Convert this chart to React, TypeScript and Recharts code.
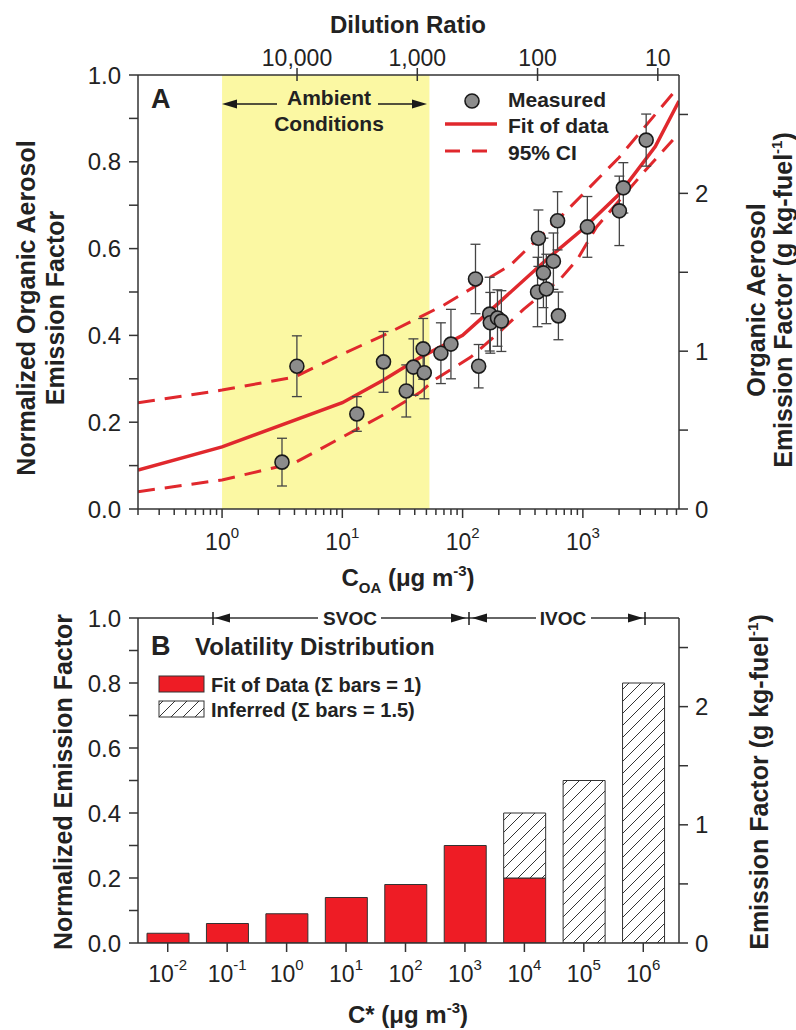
import React from "react";
import {
  ComposedChart,
  BarChart,
  Bar,
  Line,
  Scatter,
  ErrorBar,
  XAxis,
  YAxis,
  ReferenceArea,
  ReferenceLine,
} from "recharts";

const FONT = "'Liberation Sans', Arial, Helvetica, sans-serif";
const RED = "#e0282d";
const BAR_RED = "#ee1c25";
const AXIS = "#333";
const TEXT = "#222";

// ---- Panel A: measured emission factors vs C_OA
const measuredCoa = [3.15, 4.19, 13.2, 22, 34, 39, 47, 48, 66, 80, 136, 128, 168, 170, 195, 210, 420, 470, 497, 569, 626, 427, 616, 1090, 2010, 2170, 3360];
const measuredEf = [0.108, 0.329, 0.219, 0.339, 0.272, 0.327, 0.369, 0.314, 0.359, 0.38, 0.329, 0.53, 0.449, 0.429, 0.44, 0.433, 0.5, 0.544, 0.507, 0.571, 0.445, 0.624, 0.664, 0.65, 0.687, 0.74, 0.85];
const measuredErr = [0.055, 0.07, 0.04, 0.07, 0.06, 0.065, 0.07, 0.06, 0.07, 0.08, 0.05, 0.08, 0.085, 0.07, 0.065, 0.07, 0.08, 0.08, 0.08, 0.065, 0.055, 0.065, 0.067, 0.07, 0.08, 0.058, 0.06];

// fit and 95% confidence band
const fitCoa = [0.2, 1, 10, 22, 45, 100, 200, 500, 1000, 2000, 4000, 6300];
const fitEf = [0.09, 0.143, 0.245, 0.297, 0.35, 0.4, 0.475, 0.575, 0.645, 0.725, 0.835, 0.94];
const ciUpperCoa = [0.2, 1, 4, 10, 22, 70, 250, 690, 2000, 5700];
const ciUpperEf = [0.245, 0.274, 0.304, 0.357, 0.4, 0.47, 0.562, 0.68, 0.81, 0.96];
const ciLowerCoa = [0.2, 1, 4, 22, 45, 58, 117, 207, 321, 650, 900, 1300, 3300, 5600];
const ciLowerEf = [0.04, 0.067, 0.106, 0.217, 0.27, 0.297, 0.35, 0.41, 0.46, 0.53, 0.575, 0.65, 0.78, 0.85];

const ambientRange = [1, 53];
const coaDomain = [0.2, 6300];
const coaTicks = [0.2, 0.3, 0.4, 0.5, 0.6, 0.7, 0.8, 0.9, 1, 2, 3, 4, 5, 6, 7, 8, 9, 10, 20, 30, 40, 50, 60, 70, 80, 90, 100, 200, 300, 400, 500, 600, 700, 800, 900, 1000, 2000, 3000, 4000, 5000, 6000];
const dilutionTicks = [10000, 1000, 100, 10];
const DILUTION_X_COA = 42000; // dilution ratio * C_OA
const normTicks = [0, 0.1, 0.2, 0.3, 0.4, 0.5, 0.6, 0.7, 0.8, 0.9, 1.0];
const fuelTicks = [0, 0.5, 1, 1.5, 2, 2.5];
const FUEL_MAX = 2.75;

// ---- Panel B: volatility distribution
const cStarExp = [-2, -1, 0, 1, 2, 3, 4, 5, 6];
const fitBars = [0.03, 0.06, 0.09, 0.14, 0.18, 0.3, 0.2, 0, 0];
const inferredBars = [0, 0, 0, 0, 0, 0, 0.2, 0.5, 0.8];

const measuredRows = measuredCoa.map((x, i) => ({ x, y: measuredEf[i], err: measuredErr[i] }));
const fitRows = fitCoa.map((x, i) => ({ x, y: fitEf[i] }));
const upperRows = ciUpperCoa.map((x, i) => ({ x, y: ciUpperEf[i] }));
const lowerRows = ciLowerCoa.map((x, i) => ({ x, y: ciLowerEf[i] }));
const barRows = cStarExp.map((e, i) => ({ exp: e, fit: fitBars[i], inferred: inferredBars[i] }));

const isDecade = (v: number) => Math.abs(Math.log10(v) - Math.round(Math.log10(v))) < 1e-6;

function CoaTick({ x, y, payload }: any) {
  const major = isDecade(payload.value);
  return (
    <g>
      <line x1={x} x2={x} y1={y} y2={y + (major ? 9 : 6)} stroke={AXIS} strokeWidth={1.5} />
      {major && (
        <text x={x} y={y + 41} textAnchor="middle" fontSize={23} fill={TEXT} fontFamily={FONT}>
          10
          <tspan fontSize={15} dy={-12}>
            {Math.round(Math.log10(payload.value))}
          </tspan>
        </text>
      )}
    </g>
  );
}

function DilutionTick({ x, y, payload }: any) {
  const ratio = Math.round(DILUTION_X_COA / payload.value);
  return (
    <g>
      <line x1={x} x2={x} y1={y - 7} y2={y + 6} stroke={AXIS} strokeWidth={1.5} />
      <text x={x} y={y - 9} textAnchor="middle" fontSize={23} fill={TEXT} fontFamily={FONT}>
        {ratio.toLocaleString("en-US")}
      </text>
    </g>
  );
}

function NormTick({ x, y, payload }: any) {
  const v = payload.value;
  const labeled = Math.round(v * 10) % 2 === 0;
  return (
    <g>
      <line x1={x - 9} x2={x} y1={y} y2={y} stroke={AXIS} strokeWidth={1.5} />
      {labeled && (
        <text x={x - 17} y={y} dy="0.36em" textAnchor="end" fontSize={24} fill={TEXT} fontFamily={FONT}>
          {v.toFixed(1)}
        </text>
      )}
    </g>
  );
}

function FuelTick({ x, y, payload }: any) {
  const v = payload.value;
  return (
    <g>
      <line x1={x} x2={x + 9} y1={y} y2={y} stroke={AXIS} strokeWidth={1.5} />
      {Number.isInteger(v) && (
        <text x={x + 16} y={y} dy="0.36em" fontSize={24} fill={TEXT} fontFamily={FONT}>
          {v}
        </text>
      )}
    </g>
  );
}

function CStarTick({ x, y, payload }: any) {
  return (
    <g>
      <line x1={x} x2={x} y1={y} y2={y + 9} stroke={AXIS} strokeWidth={1.5} />
      <text x={x} y={y + 39} textAnchor="middle" fontSize={23} fill={TEXT} fontFamily={FONT}>
        10
        <tspan fontSize={15} dy={-12}>
          {payload.value}
        </tspan>
      </text>
    </g>
  );
}

const MeasuredDot = (p: any) => (
  <circle cx={p.cx} cy={p.cy} r={7} fill="#8c8c8c" stroke="#1a1a1a" strokeWidth={1.6} />
);

function Arrowhead({ tip, y, dir }: { tip: number; y: number; dir: 1 | -1 }) {
  const base = tip - dir * 15;
  return <polygon points={`${tip},${y} ${base},${y - 4.5} ${base},${y + 4.5}`} fill="#1a1a1a" />;
}

function PanelA() {
  return (
    <ComposedChart width={796} height={580} margin={{ top: 45, right: 57, bottom: 41, left: 78 }}>
      <XAxis
        xAxisId="bottom"
        dataKey="x"
        type="number"
        scale="log"
        domain={coaDomain}
        allowDataOverflow
        ticks={coaTicks}
        interval={0}
        height={30}
        tickSize={0}
        tickMargin={0}
        tickLine={false}
        stroke={AXIS}
        strokeWidth={1.5}
        tick={(p: any) => <CoaTick {...p} />}
      />
      <XAxis
        xAxisId="top"
        orientation="top"
        dataKey="x"
        type="number"
        scale="log"
        domain={coaDomain}
        allowDataOverflow
        ticks={dilutionTicks.map((d) => DILUTION_X_COA / d)}
        interval={0}
        height={30}
        tickSize={0}
        tickMargin={0}
        tickLine={false}
        stroke={AXIS}
        strokeWidth={1.5}
        tick={(p: any) => <DilutionTick {...p} />}
      />
      <YAxis
        yAxisId="left"
        dataKey="y"
        type="number"
        domain={[0, 1]}
        allowDataOverflow
        ticks={normTicks}
        interval={0}
        width={60}
        tickSize={0}
        tickMargin={0}
        tickLine={false}
        stroke={AXIS}
        strokeWidth={1.5}
        tick={(p: any) => <NormTick {...p} />}
      />
      <YAxis
        yAxisId="right"
        orientation="right"
        type="number"
        domain={[0, FUEL_MAX]}
        allowDataOverflow
        ticks={fuelTicks}
        interval={0}
        width={60}
        tickSize={0}
        tickMargin={0}
        tickLine={false}
        stroke={AXIS}
        strokeWidth={1.5}
        tick={(p: any) => <FuelTick {...p} />}
      />
      <ReferenceArea
        xAxisId="bottom"
        yAxisId="left"
        x1={ambientRange[0]}
        x2={ambientRange[1]}
        y1={0}
        y2={1}
        fill="#fbf8a3"
        fillOpacity={1}
        stroke="none"
      />
      <Line
        data={upperRows}
        xAxisId="bottom"
        yAxisId="left"
        dataKey="y"
        type="linear"
        stroke={RED}
        strokeWidth={3}
        strokeDasharray="17 10"
        dot={false}
        isAnimationActive={false}
      />
      <Line
        data={lowerRows}
        xAxisId="bottom"
        yAxisId="left"
        dataKey="y"
        type="linear"
        stroke={RED}
        strokeWidth={3}
        strokeDasharray="17 10"
        dot={false}
        isAnimationActive={false}
      />
      <Line
        data={fitRows}
        xAxisId="bottom"
        yAxisId="left"
        dataKey="y"
        type="linear"
        stroke={RED}
        strokeWidth={3.5}
        dot={false}
        isAnimationActive={false}
      />
      <Scatter
        data={measuredRows}
        xAxisId="bottom"
        yAxisId="left"
        dataKey="y"
        shape={MeasuredDot}
        isAnimationActive={false}
      >
        <ErrorBar dataKey="err" direction="y" width={5} stroke="#444" strokeWidth={1.3} />
      </Scatter>
    </ComposedChart>
  );
}

function PanelB() {
  return (
    <BarChart
      width={796}
      height={450}
      data={barRows}
      margin={{ top: 38, right: 57, bottom: 57, left: 78 }}
      barSize={42}
    >
      <defs>
        <pattern id="hatch" width="12" height="12" patternUnits="userSpaceOnUse">
          <rect width="12" height="12" fill="#fff" />
          <path d="M0,12 L12,0 M-3,3 L3,-3 M9,15 L15,9" stroke="#333" strokeWidth="1" />
        </pattern>
      </defs>
      <XAxis
        dataKey="exp"
        type="category"
        padding={{ left: 0, right: 6 }}
        height={30}
        interval={0}
        tickSize={0}
        tickMargin={0}
        tickLine={false}
        stroke={AXIS}
        strokeWidth={1.5}
        tick={(p: any) => <CStarTick {...p} />}
      />
      <YAxis
        yAxisId="left"
        type="number"
        domain={[0, 1]}
        allowDataOverflow
        ticks={normTicks}
        interval={0}
        width={60}
        tickSize={0}
        tickMargin={0}
        tickLine={false}
        stroke={AXIS}
        strokeWidth={1.5}
        tick={(p: any) => <NormTick {...p} />}
      />
      <YAxis
        yAxisId="right"
        orientation="right"
        type="number"
        domain={[0, FUEL_MAX]}
        allowDataOverflow
        ticks={fuelTicks}
        interval={0}
        width={60}
        tickSize={0}
        tickMargin={0}
        tickLine={false}
        stroke={AXIS}
        strokeWidth={1.5}
        tick={(p: any) => <FuelTick {...p} />}
      />
      <ReferenceLine yAxisId="left" y={1} stroke={AXIS} strokeWidth={1.5} />
      <Bar yAxisId="left" dataKey="fit" stackId="v" fill={BAR_RED} stroke="#333" strokeWidth={1} isAnimationActive={false} />
      <Bar yAxisId="left" dataKey="inferred" stackId="v" fill="url(#hatch)" stroke="#333" strokeWidth={1} isAnimationActive={false} />
    </BarChart>
  );
}

function Overlay() {
  const bold = { fontFamily: FONT, fontWeight: 700, fill: TEXT } as const;
  return (
    <svg width={796} height={1030} style={{ position: "absolute", left: 0, top: 0, pointerEvents: "none" }}>
      <defs>
        <pattern id="hatchLegend" width="12" height="12" patternUnits="userSpaceOnUse">
          <rect width="12" height="12" fill="#fff" />
          <path d="M0,12 L12,0 M-3,3 L3,-3 M9,15 L15,9" stroke="#333" strokeWidth="1" />
        </pattern>
      </defs>
      {/* panel A titles */}
      <text x={408} y={33} textAnchor="middle" fontSize={24} {...bold}>Dilution Ratio</text>
      <text transform="translate(35,308) rotate(-90)" textAnchor="middle" fontSize={25} {...bold}>Normalized Organic Aerosol</text>
      <text transform="translate(64,308) rotate(-90)" textAnchor="middle" fontSize={25} {...bold}>Emission Factor</text>
      <text transform="translate(765,300) rotate(-90)" textAnchor="middle" fontSize={25} {...bold}>Organic Aerosol</text>
      <text transform="translate(792,300) rotate(-90)" textAnchor="middle" fontSize={25} {...bold}>
        Emission Factor (g kg-fuel<tspan fontSize={15} dy={-10}>-1</tspan><tspan dy={10}>)</tspan>
      </text>
      <text x={408} y={586} textAnchor="middle" fontSize={24} {...bold}>
        C<tspan fontSize={15} dy={7}>OA</tspan><tspan dy={-7}> (μg m</tspan><tspan fontSize={15} dy={-10}>-3</tspan><tspan dy={10}>)</tspan>
      </text>
      <text x={151} y={108} fontSize={27} {...bold}>A</text>
      {/* ambient conditions */}
      <text x={329} y={105} textAnchor="middle" fontSize={21} {...bold}>Ambient</text>
      <text x={329} y={131} textAnchor="middle" fontSize={21} {...bold}>Conditions</text>
      <line x1={230} x2={277} y1={104} y2={104} stroke="#1a1a1a" strokeWidth={1.5} />
      <Arrowhead tip={222} y={104} dir={-1} />
      <line x1={378} x2={418} y1={104} y2={104} stroke="#1a1a1a" strokeWidth={1.5} />
      <Arrowhead tip={427} y={104} dir={1} />
      {/* panel A legend */}
      <circle cx={472} cy={101} r={7} fill="#8c8c8c" stroke="#1a1a1a" strokeWidth={1.6} />
      <text x={508} y={107} fontSize={21} {...bold}>Measured</text>
      <line x1={445} x2={497} y1={124} y2={124} stroke={RED} strokeWidth={3.5} />
      <text x={508} y={133} fontSize={21} {...bold}>Fit of data</text>
      <line x1={445} x2={497} y1={151} y2={151} stroke={RED} strokeWidth={3} strokeDasharray="15 12" />
      <text x={508} y={160} fontSize={21} {...bold}>95% CI</text>

      {/* panel B */}
      <text transform="translate(72,782) rotate(-90)" textAnchor="middle" fontSize={25} {...bold}>Normalized Emission Factor</text>
      <text transform="translate(768,782) rotate(-90)" textAnchor="middle" fontSize={25} {...bold}>
        Emission Factor (g kg-fuel<tspan fontSize={15} dy={-10}>-1</tspan><tspan dy={10}>)</tspan>
      </text>
      <text x={408} y={1023} textAnchor="middle" fontSize={24} {...bold}>
        C* (μg m<tspan fontSize={15} dy={-10}>-3</tspan><tspan dy={10}>)</tspan>
      </text>
      <text x={151} y={655} fontSize={27} {...bold}>B</text>
      <text x={195} y={655} fontSize={24} {...bold}>Volatility Distribution</text>
      <rect x={159} y={676} width={45} height={16} fill={BAR_RED} stroke="#333" strokeWidth={1} />
      <text x={211} y={692} fontSize={20} {...bold}>Fit of Data (Σ bars = 1)</text>
      <rect x={159} y={701} width={45} height={16} fill="url(#hatchLegend)" stroke="#333" strokeWidth={1} />
      <text x={211} y={717} fontSize={20} {...bold}>Inferred (Σ bars = 1.5)</text>
      {/* SVOC / IVOC brackets */}
      <line x1={213} x2={213} y1={612} y2={625} stroke="#1a1a1a" strokeWidth={1.5} />
      <Arrowhead tip={215} y={618} dir={-1} />
      <Arrowhead tip={466} y={618} dir={1} />
      <line x1={469} x2={469} y1={612} y2={625} stroke="#1a1a1a" strokeWidth={1.5} />
      <Arrowhead tip={472} y={618} dir={-1} />
      <Arrowhead tip={643} y={618} dir={1} />
      <line x1={645} x2={645} y1={612} y2={625} stroke="#1a1a1a" strokeWidth={1.5} />
      <rect x={318} y={608} width={63} height={20} fill="#fff" />
      <text x={350} y={625} textAnchor="middle" fontSize={19} {...bold}>SVOC</text>
      <rect x={536} y={608} width={55} height={20} fill="#fff" />
      <text x={563} y={625} textAnchor="middle" fontSize={19} {...bold}>IVOC</text>
    </svg>
  );
}

export default function App() {
  return (
    <div style={{ position: "absolute", left: 0, top: 0, width: 796, height: 1030, background: "#fff", fontFamily: FONT }}>
      <div style={{ position: "absolute", left: 0, top: 0 }}>
        <PanelA />
      </div>
      <div style={{ position: "absolute", left: 0, top: 580 }}>
        <PanelB />
      </div>
      <Overlay />
    </div>
  );
}
